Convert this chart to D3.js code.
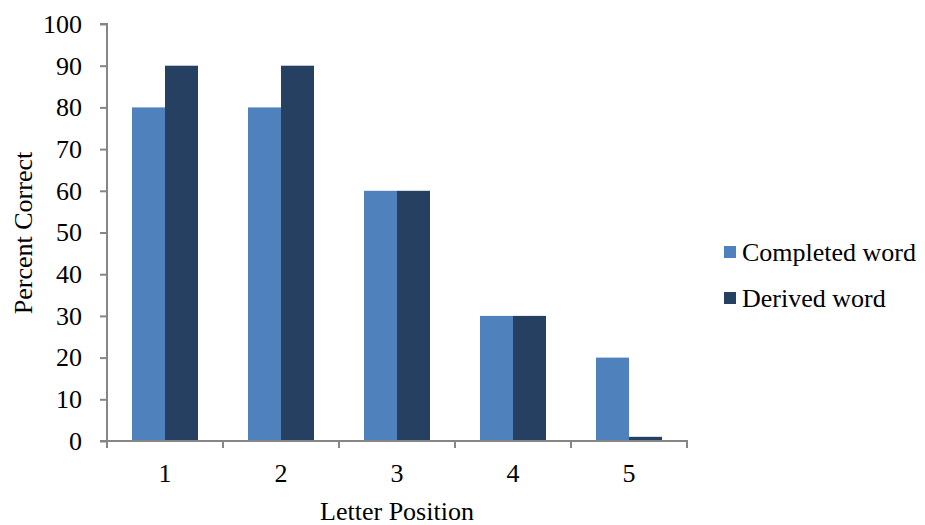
<!DOCTYPE html>
<html><head><meta charset="utf-8">
<script src="https://cdn.jsdelivr.net/npm/d3@7"></script>
<style>body{margin:0;background:#fff}svg{display:block}text{font-family:"Liberation Serif","Times New Roman",Times,serif;fill:#000}</style>
</head><body>
<script>
const categories = ["1","2","3","4","5"];
const seriesNames = ["Completed word","Derived word"];
const completed = [80,80,60,30,20];
const derived = [90,90,60,30,1];
const yTicks = [0,10,20,30,40,50,60,70,80,90,100];
const colors = ["#4F81BD","#254061"];

const W=925,H=525;
const FONT='"Liberation Serif","Times New Roman",Times,serif';
const svg=d3.select("body").append("svg").attr("width",W).attr("height",H);
const x0=d3.scaleBand().domain(categories).range([107,687]).paddingInner(0).paddingOuter(0);
const y=d3.scaleLinear().domain([0,100]).range([441,24]);
const bw=33;
const series=[completed,derived];
const axisColor="#868686";

series.forEach((vals,si)=>{
  svg.append("g").selectAll("rect").data(categories).join("rect")
    .attr("x",(d,i)=>x0(d)+x0.bandwidth()/2-bw+si*bw)
    .attr("width",bw)
    .attr("y",(d,i)=>y(vals[i]))
    .attr("height",(d,i)=>y(0)-y(vals[i]))
    .attr("fill",colors[si]);
});

// y axis
const ya=svg.append("g").attr("transform","translate(107,0)")
  .call(d3.axisLeft(y).tickValues(yTicks).tickSize(7).tickPadding(18));
ya.attr("font-family",FONT).attr("font-size",26);
ya.selectAll("path,line").attr("stroke",axisColor).attr("stroke-width",2);
ya.select(".domain").attr("d","M-7,24H0V441");
ya.selectAll("text").style("font-family",FONT).style("font-size","26px").attr("fill","#000");

// x axis
const xa=svg.append("g").attr("transform","translate(0,441)");
xa.append("line").attr("x1",100).attr("x2",688).attr("y1",0).attr("y2",0).attr("stroke",axisColor).attr("stroke-width",2);
const bounds=categories.map(c=>x0(c)).concat([x0(categories[categories.length-1])+x0.bandwidth()]);
xa.selectAll("line.t").data(bounds).join("line").attr("class","t")
  .attr("x1",d=>d).attr("x2",d=>d).attr("y1",0).attr("y2",7).attr("stroke",axisColor).attr("stroke-width",2);
xa.selectAll("text").data(categories).join("text")
  .attr("x",d=>x0(d)+x0.bandwidth()/2).attr("y",41).attr("text-anchor","middle")
  .style("font-size","26px").text(d=>d);

svg.append("text").attr("x",397).attr("y",520).attr("text-anchor","middle").style("font-size","26px").text("Letter Position");
svg.append("text").attr("transform","translate(32,233) rotate(-90)").attr("text-anchor","middle").style("font-size","26px").text("Percent Correct");

const lg=svg.append("g");
seriesNames.forEach((n,i)=>{
  lg.append("rect").attr("x",724).attr("y",246+i*46).attr("width",12).attr("height",12).attr("fill",colors[i]);
  lg.append("text").attr("x",742).attr("y",261+i*46).style("font-size","26px").text(n);
});
</script>
</body></html>
